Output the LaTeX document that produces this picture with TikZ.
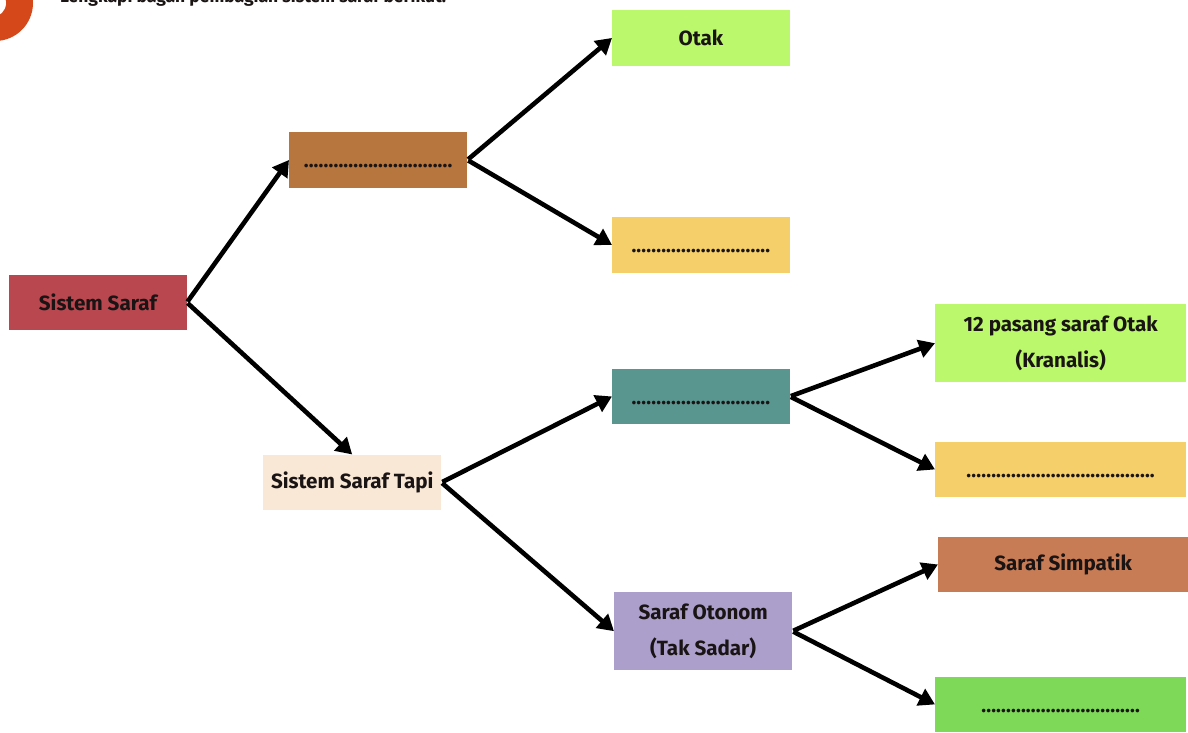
\documentclass[tikz,border=0pt]{standalone}
\usepackage{fontspec}
\setmainfont{Fira Sans}[BoldFont={Fira Sans Bold}]
\usetikzlibrary{arrows.meta}
\definecolor{cRed}{HTML}{B9474F}
\definecolor{cBrown}{HTML}{B6763E}
\definecolor{cLime}{HTML}{BBF86C}
\definecolor{cYellow}{HTML}{F5D06A}
\definecolor{cCream}{HTML}{F9E8D6}
\definecolor{cTeal}{HTML}{5A9690}
\definecolor{cPurple}{HTML}{AC9FCB}
\definecolor{cClay}{HTML}{C77C55}
\definecolor{cGreen}{HTML}{7DD957}
\definecolor{cOrange}{HTML}{D4481A}
\definecolor{cInk}{HTML}{1A1414}
\tikzset{
  box/.style={draw=none, minimum height=#1, inner sep=0pt, font=\fontsize{20.6}{36}\selectfont\bfseries, text=cInk, align=center, anchor=north west},
  box/.default={55.5},
  conn/.style={line width=4.6pt, draw=black, -{Triangle[length=16pt,width=18pt]}, shorten <=1pt},
}
\newcommand{\dotline}[1]{\raisebox{-8pt}[0pt][0pt]{\fontsize{20}{20}\selectfont\foreach \i in {1,...,#1}{.\kern0.16pt}}}
\begin{document}
\begin{tikzpicture}[x=1pt,y=-1pt]
\useasboundingbox (0,0) rectangle (1188,733);
\fill[white] (0,0) rectangle (1188,733);
% corner badge and the cut-off instruction
\begin{scope}
\clip (0,0) rectangle (1188,733);
\fill[cOrange] (-5,3) circle (38);
\fill[white] (-8,3) circle (14);
\end{scope}
\node[anchor=base west, inner sep=0pt, font=\fontsize{17.5}{19}\selectfont\bfseries, text=cInk] (instr) at (60,3) {Lengkapi bagan pembagian sistem saraf berikut.};
% boxes
\node[box, fill=cRed, minimum width=177.5pt] (root) at (9,274.5) {Sistem Saraf};
\node[box, fill=cBrown, minimum width=178pt] (pusat) at (289,132) {\dotline{30}};
\node[box, fill=cLime, minimum width=177.5pt] (otak) at (612,10) {Otak};
\node[box, fill=cYellow, minimum width=177.5pt] (blank1) at (612,217) {\dotline{28}};
\node[box, fill=cCream, minimum width=178pt] (tepi) at (263,454.5) {Sistem Saraf Tapi};
\node[box, fill=cTeal, minimum width=177.5pt] (sadar) at (612,368.5) {\dotline{28}};
\node[box=78pt, fill=cPurple, minimum width=178pt] (otonom) at (614,592) {Saraf Otonom\\(Tak Sadar)};
\node[box=78pt, fill=cLime, minimum width=251pt] (kranial) at (935,304) {12 pasang saraf Otak\\(Kranalis)};
\node[box, fill=cYellow, minimum width=251pt] (blank2) at (935,441.5) {\dotline{38}};
\node[box, fill=cClay, minimum width=250pt] (simpatik) at (938,536.5) {Saraf Simpatik};
\node[box, fill=cGreen, minimum width=251pt] (blank3) at (935,676.5) {\dotline{32}};
% connectors
\draw[conn] (root.east) -- (pusat.west);
\draw[conn] (root.east) -- (tepi.north);
\draw[conn] (pusat.east) -- (otak.west);
\draw[conn] (pusat.east) -- (blank1.west);
\draw[conn] (tepi.east) -- (sadar.west);
\draw[conn] (tepi.east) -- (otonom.west);
\draw[conn] (sadar.east) -- (kranial.west);
\draw[conn] (sadar.east) -- (blank2.west);
\draw[conn] (otonom.east) -- (simpatik.west);
\draw[conn] (otonom.east) -- (blank3.west);
\end{tikzpicture}
\end{document}
